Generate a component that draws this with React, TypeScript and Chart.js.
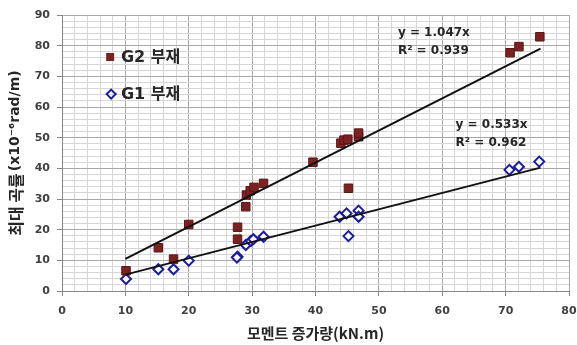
import React, { useEffect, useRef } from 'react';
import { Chart, registerables } from 'chart.js';
Chart.register(...registerables);

// G2 부재 (series values)
const g2X = [10.1, 15.2, 17.6, 20.0, 27.7, 27.7, 29.0, 29.1, 29.7, 30.3, 31.8, 39.6, 44.0, 44.5, 45.1, 45.2, 46.8, 46.8, 70.7, 72.1, 75.4];
const g2Y = [6.6, 14.1, 10.4, 21.7, 20.8, 16.9, 27.5, 31.3, 32.7, 33.8, 35.1, 42.0, 48.2, 49.2, 49.5, 33.5, 50.3, 51.5, 77.7, 79.7, 82.9];
// G1 부재
const g1X = [10.1, 15.2, 17.6, 20.0, 27.7, 27.6, 29.0, 29.8, 30.2, 31.8, 43.8, 44.9, 45.2, 46.8, 46.8, 70.6, 72.1, 75.3];
const g1Y = [3.9, 7.1, 7.1, 9.9, 11.2, 10.9, 15.0, 16.3, 16.9, 17.7, 24.2, 25.3, 17.9, 26.2, 24.2, 39.5, 40.5, 42.2];
// trendlines (endpoints of the fitted lines)
const g2TrendX = [10, 75.5];
const g2TrendY = [10.47, 79.05];
const g1TrendX = [10, 75.5];
const g1TrendY = [5.33, 40.24];

const seriesNames = ['G2 부재', 'G1 부재'];
const eqLabels = [['y = 1.047x', 'R² = 0.939'], ['y = 0.533x', 'R² = 0.962']];
const xTitle = '모멘트 증가량(kN.m)';
const yTitleMain = '최대 곡률';
const yTitleUnit = '(x10⁻⁶rad/m)';

const G2_COLOR = '#7a2222';
const G2_BORDER = '#5e1515';
const G1_COLOR = '#1c1c9c';
const FONT = "'DejaVu Sans', 'Noto Sans CJK KR', sans-serif";
const KFONT = "'Noto Sans CJK KR', 'DejaVu Sans', sans-serif";

const toPts = (xs: number[], ys: number[]) => xs.map((v, i) => ({ x: v, y: ys[i] }));

const overlay = {
  id: 'overlay',
  afterDatasetsDraw(chart: any) {
    const { ctx, chartArea } = chart;
    const x = chart.scales.x;
    const y = chart.scales.y;
    ctx.save();
    // legend
    const lx = x.getPixelForValue(7.6);
    const ly1 = y.getPixelForValue(76.3);
    const ly2 = y.getPixelForValue(64.2);
    ctx.fillStyle = G2_COLOR;
    ctx.fillRect(lx - 4, ly1 - 4, 8, 8);
    ctx.strokeStyle = G1_COLOR;
    ctx.lineWidth = 2;
    ctx.beginPath();
    ctx.moveTo(lx + 1, ly2 - 4.5);
    ctx.lineTo(lx + 5.5, ly2);
    ctx.lineTo(lx + 1, ly2 + 4.5);
    ctx.lineTo(lx - 3.5, ly2);
    ctx.closePath();
    ctx.stroke();
    ctx.fillStyle = '#262626';
    ctx.font = `bold 16px ${FONT}`;
    ctx.textBaseline = 'middle';
    ctx.textAlign = 'left';
    ctx.fillText(seriesNames[0], x.getPixelForValue(9.3), ly1 + 1);
    ctx.fillText(seriesNames[1], x.getPixelForValue(9.3), ly2 + 1);
    // equations
    ctx.font = `bold 12px ${FONT}`;
    const e1x = x.getPixelForValue(53);
    ctx.fillText(eqLabels[0][0], e1x, y.getPixelForValue(84.1));
    ctx.fillText(eqLabels[0][1], e1x, y.getPixelForValue(78.2));
    const e2x = x.getPixelForValue(62.1);
    ctx.fillText(eqLabels[1][0], e2x, y.getPixelForValue(54.1));
    ctx.fillText(eqLabels[1][1], e2x, y.getPixelForValue(48.2));
    // y title (mixed sizes), rotated
    const fMain = `bold 16px ${KFONT}`;
    const fUnit = `bold 14px ${FONT}`;
    ctx.font = fMain;
    const wMain = ctx.measureText(yTitleMain).width;
    ctx.font = fUnit;
    const wUnit = ctx.measureText(yTitleUnit).width;
    const total = wMain + 2 + wUnit;
    const cy = (chartArea.top + chartArea.bottom) / 2;
    ctx.translate(15, cy);
    ctx.rotate(-Math.PI / 2);
    ctx.textBaseline = 'middle';
    ctx.font = fMain;
    ctx.fillText(yTitleMain, -total / 2, 1);
    ctx.font = fUnit;
    ctx.fillText(yTitleUnit, -total / 2 + wMain + 2, 0);
    ctx.restore();
  },
};

const isMajor = (v: number) => Math.round(v) % 10 === 0;

export default function App() {
  const ref = useRef<HTMLCanvasElement>(null);
  useEffect(() => {
    if (!ref.current) return;
    const chart = new Chart(ref.current, {
      type: 'scatter',
      data: {
        datasets: [
          {
            type: 'line',
            label: 'G2 trend',
            data: toPts(g2TrendX, g2TrendY),
            borderColor: '#111111',
            borderWidth: 2,
            pointRadius: 0,
            fill: false,
          } as any,
          {
            type: 'line',
            label: 'G1 trend',
            data: toPts(g1TrendX, g1TrendY),
            borderColor: '#111111',
            borderWidth: 2,
            pointRadius: 0,
            fill: false,
          } as any,
          {
            label: seriesNames[0],
            data: toPts(g2X, g2Y),
            pointStyle: 'rect',
            pointRadius: 6,
            backgroundColor: G2_COLOR,
            borderColor: G2_BORDER,
            borderWidth: 1,
          },
          {
            label: seriesNames[1],
            data: toPts(g1X, g1Y),
            pointStyle: 'rectRot',
            pointRadius: 5,
            backgroundColor: '#ffffff',
            borderColor: G1_COLOR,
            borderWidth: 2,
          },
        ],
      },
      options: {
        animation: false,
        responsive: false,
        devicePixelRatio: 1,
        layout: { padding: { top: 15, right: 8, left: 0, bottom: 0 } },
        plugins: { legend: { display: false }, tooltip: { enabled: false } },
        scales: {
          x: {
            type: 'linear',
            min: 0,
            max: 80,
            afterFit: (s: any) => { s.height = 54; s.paddingLeft = 0; s.paddingRight = 0; },
            ticks: {
              stepSize: 2,
              autoSkip: false,
              maxRotation: 0,
              padding: 9,
              color: '#404040',
              font: { family: FONT, size: 11, weight: 'bold' },
              callback: (v: any) => (isMajor(Number(v)) ? String(Math.round(Number(v))) : ''),
            },
            grid: {
              color: (c: any) => (isMajor(c.tick.value) ? '#a8a8a8' : '#d6d6d6'),
              tickColor: (c: any) => (isMajor(c.tick.value) ? '#868686' : 'rgba(0,0,0,0)'),
              tickLength: 5,
            },
            border: { color: '#868686' },
            title: {
              display: true,
              text: xTitle,
              color: '#262626',
              font: { family: KFONT, size: 15, weight: 'bold' },
              padding: { top: 4, bottom: 3 },
            },
          },
          y: {
            type: 'linear',
            min: 0,
            max: 90,
            afterFit: (s: any) => { s.width = 62; s.paddingTop = 0; s.paddingBottom = 0; },
            ticks: {
              stepSize: 2,
              autoSkip: false,
              padding: 7,
              color: '#404040',
              font: { family: FONT, size: 11, weight: 'bold' },
              callback: (v: any) => (isMajor(Number(v)) ? String(Math.round(Number(v))) : ''),
            },
            grid: {
              color: (c: any) => (isMajor(c.tick.value) ? '#a8a8a8' : '#d6d6d6'),
              tickColor: (c: any) => (isMajor(c.tick.value) ? '#868686' : 'rgba(0,0,0,0)'),
              tickLength: 5,
            },
            border: { color: '#868686' },
            title: { display: false },
          },
        },
      },
      plugins: [overlay],
    });
    return () => chart.destroy();
  }, []);
  return (
    <div style={{ position: 'absolute', left: 0, top: 0, width: 577, height: 345, background: '#ffffff' }}>
      <canvas ref={ref} width={577} height={345} />
    </div>
  );
}
